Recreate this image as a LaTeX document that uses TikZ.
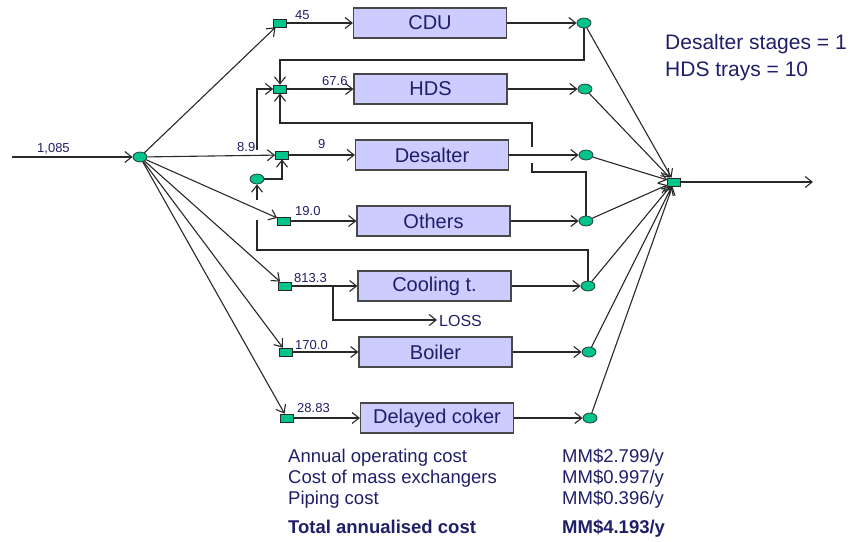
\documentclass[tikz,border=0pt]{standalone}
\usepackage{fontspec}
\setmainfont{Liberation Sans}
\usetikzlibrary{arrows.meta,shapes.geometric}
\definecolor{ink}{RGB}{30,30,105}
\definecolor{unitfill}{RGB}{204,204,255}
\definecolor{nodegreen}{RGB}{0,196,140}
\definecolor{wirecol}{RGB}{40,40,40}
\begin{document}
\begin{tikzpicture}[x=1pt,y=-1pt,
  wire/.style={draw=wirecol, line width=1.1pt},
  arr/.style={wire, -{Straight Barb[length=7pt,width=11pt]}},
  unit/.style={draw=wirecol!85, line width=1.2pt, fill=unitfill, minimum width=153pt,
    minimum height=30pt, inner sep=0pt, font=\fontsize{20}{22}\selectfont, text=ink},
  mixer/.style={draw=wirecol, line width=0.7pt, fill=nodegreen, minimum width=13pt,
    minimum height=8pt, inner sep=0pt},
  splitter/.style={ellipse, draw=wirecol, line width=0.7pt, fill=nodegreen,
    minimum width=14pt, minimum height=10pt, inner sep=0pt},
  flow/.style={font=\fontsize{13}{14}\selectfont, text=ink, inner sep=0pt, anchor=base west},
  note/.style={font=\fontsize{21}{23}\selectfont, text=ink, inner sep=0pt, anchor=base west},
  cost/.style={font=\fontsize{18.5}{20}\selectfont, text=ink, inner sep=0pt, anchor=base west}]

\useasboundingbox (0,0) rectangle (851,541);

% process units
\node[unit] (uCDU)  at (430,23)  {CDU};
\node[unit] (uHDS)  at (430.5,89) {HDS};
\node[unit] (uDes)  at (432,155) {Desalter};
\node[unit] (uOth)  at (433.5,221) {Others};
\node[unit] (uCool) at (434.5,286) {Cooling t.};
\node[unit] (uBoil) at (435.5,352) {Boiler};
\node[unit] (uCok)  at (437,418) {Delayed coker};

% mixers in front of the units
\node[mixer] (mCDU)  at (280,23)  {};
\node[mixer] (mHDS)  at (280,89)  {};
\node[mixer] (mDes)  at (282,155) {};
\node[mixer] (mOth)  at (284,221) {};
\node[mixer] (mCool) at (285,286) {};
\node[mixer] (mBoil) at (286,352) {};
\node[mixer] (mCok)  at (287,418) {};

% splitters behind the units
\node[splitter] (sCDU)  at (584,23)  {};
\node[splitter] (sHDS)  at (585,89)  {};
\node[splitter] (sDes)  at (586,155) {};
\node[splitter] (sOth)  at (586,221) {};
\node[splitter] (sCool) at (588,286) {};
\node[splitter] (sBoil) at (589,352) {};
\node[splitter] (sCok)  at (590,418) {};

% fresh water splitter, recycle splitter, final mixer
\node[splitter] (s0)   at (140,157) {};
\node[splitter] (sRec) at (257,179) {};
\node[mixer]    (mOut) at (674,182) {};

\coordinate (feed) at (12,157);
\coordinate (drain) at (813,182);
\coordinate (lossTip) at (437,320);

% fresh water
\draw[arr] (feed) -- (s0);
\node[flow] at (37,152) {1,085};
\foreach \m in {mCDU,mDes,mOth,mCool,mBoil,mCok}
  \draw[arr] (s0) -- (\m);

% unit feeds and effluents
\foreach \u in {CDU,HDS,Des,Oth,Cool,Boil,Cok}{
  \draw[arr] (m\u) -- (u\u.west);
  \draw[arr] (u\u.east) -- (s\u.west);
  \draw[arr] (s\u) -- (mOut);
}
\draw[arr] (mOut) -- (drain);

% flow rates
\node[flow] at (295,19.5) {45};
\node[flow] at (322,85)   {67.6};
\node[flow] at (237,151)  {8.9};
\node[flow] at (318,148)  {9};
\node[flow] at (295,215)  {19.0};
\node[flow] at (294,282)  {813.3};
\node[flow] at (295,349)  {170.0};
\node[flow] at (297,412)  {28.83};

% recycle CDU -> HDS
\draw[arr] (sCDU.south) -- (sCDU.south |- 0,60) -| (mHDS.north);

% recycle Others -> HDS (jumps over the desalter effluent)
\draw[wire] (sOth.north) |- (532,172) -- (532,163);
\draw[arr] (532,147) -- (532,123) -| (mHDS.south);

% recycle Cooling t. -> recycle splitter (jumps over the Others feed)
\draw[wire] (sCool.north) |- (257,250) -- (257,220);
\draw[arr] (257,200) -- (sRec.south);

% recycle splitter -> Desalter and HDS (jumps over the desalter feed)
\draw[arr] (sRec.east) -| (mDes.south);
\draw[arr] (257,150) |- (mHDS.west);

% cooling tower loss
\draw[arr] (333,286) |- (lossTip);
\node[font=\fontsize{16}{18}\selectfont, text=ink, inner sep=0pt, anchor=base west] at (439,326) {LOSS};

% design data
\node[note] at (665,49) {Desalter stages = 1};
\node[note] at (665,76) {HDS trays = 10};

% cost summary
\node[cost] at (288,462) {Annual operating cost};
\node[cost] at (288,483) {Cost of mass exchangers};
\node[cost] at (288,504) {Piping cost};
\node[cost, font=\fontsize{18.5}{20}\selectfont\bfseries] at (288,533) {Total annualised cost};
\node[cost] at (562,462) {MM\$2.799/y};
\node[cost] at (562,483) {MM\$0.997/y};
\node[cost] at (562,504) {MM\$0.396/y};
\node[cost, font=\fontsize{18.5}{20}\selectfont\bfseries] at (562,533) {MM\$4.193/y};
\end{tikzpicture}
\end{document}
